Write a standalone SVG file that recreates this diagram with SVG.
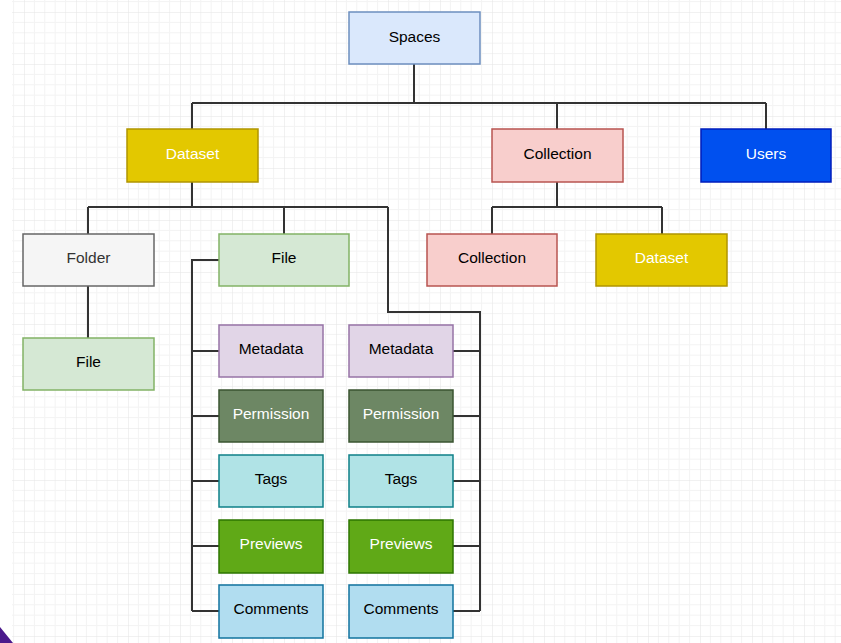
<svg xmlns="http://www.w3.org/2000/svg" width="841" height="643" viewBox="0 0 841 643">
<defs>
<pattern id="grid" patternUnits="userSpaceOnUse" x="24" y="12" width="52" height="52">
<path d="M10.4 0V52M20.8 0V52M31.2 0V52M41.6 0V52M0 10.4H52M0 20.8H52M0 31.2H52M0 41.6H52" stroke="#f3f3f3" stroke-width="1" fill="none"/>
<path d="M0 0V52M0 0H52" stroke="#e4e4e4" stroke-width="1" fill="none"/>
</pattern>
<style>
.n rect{stroke-width:1.5}
.n text{font-family:"Liberation Sans",Arial,sans-serif;font-size:15.5px;text-anchor:middle}
.c path{fill:none;stroke:#333333;stroke-width:2}
.blue rect{fill:#dae8fc;stroke:#6c8ebf}
.yellow rect{fill:#e3c800;stroke:#b09500}
.yellow text{fill:#ffffff}
.red rect{fill:#f8cecc;stroke:#b85450}
.dblue rect{fill:#0050ef;stroke:#001dbc}
.dblue text{fill:#ffffff}
.gray rect{fill:#f5f5f5;stroke:#666666}
.gray text{fill:#333333}
.green rect{fill:#d5e8d4;stroke:#82b366}
.purple rect{fill:#e1d5e7;stroke:#9673a6}
.olive rect{fill:#6d8764;stroke:#3a5431}
.olive text{fill:#ffffff}
.teal rect{fill:#b0e3e6;stroke:#0e8088}
.lime rect{fill:#60a917;stroke:#2d7600}
.lime text{fill:#ffffff}
.sky rect{fill:#b1ddf0;stroke:#10739e}
</style>
</defs>
<rect width="841" height="643" fill="#ffffff"/>
<rect x="12" y="0" width="829" height="643" fill="url(#grid)"/>
<path d="M0 627 L13 643 L0 643 Z" fill="#4b1a8c"/>

<g id="connectors" class="c">
<path d="M414 64V103M192 103H766M192 103V129M557 103V129M766 103V129"/>
<path d="M192 182V207M88 207H388M88 207V234M284 207V234"/>
<path d="M88 286V338"/>
<path d="M557 182V207M492 207H662M492 207V234M662 207V234"/>
<path d="M219 260H192V611M192 351H219M192 416H219M192 481H219M192 546H219M192 611H219"/>
<path d="M388 207V312H480V611M453 351H480M453 416H480M453 481H480M453 546H480M453 611H480"/>
</g>

<g id="spaces" class="n blue"><rect x="349" y="12" width="131" height="52"/><text x="414.5" y="42">Spaces</text></g>
<g id="dataset" class="n yellow"><rect x="127" y="129" width="131" height="53"/><text x="192.5" y="159">Dataset</text></g>
<g id="collection" class="n red"><rect x="492" y="129" width="131" height="53"/><text x="557.5" y="159">Collection</text></g>
<g id="users" class="n dblue"><rect x="701" y="129" width="130" height="53"/><text x="766" y="159">Users</text></g>
<g id="folder" class="n gray"><rect x="23" y="234" width="131" height="52"/><text x="88.5" y="263">Folder</text></g>
<g id="file" class="n green"><rect x="219" y="234" width="130" height="52"/><text x="284" y="263">File</text></g>
<g id="collection2" class="n red"><rect x="427" y="234" width="130" height="52"/><text x="492" y="263">Collection</text></g>
<g id="dataset2" class="n yellow"><rect x="596" y="234" width="131" height="52"/><text x="661.5" y="263">Dataset</text></g>
<g id="folder-file" class="n green"><rect x="23" y="338" width="131" height="52"/><text x="88.5" y="367">File</text></g>

<g id="metadata1" class="n purple"><rect x="219" y="325" width="104" height="52"/><text x="271" y="354">Metadata</text></g>
<g id="permission1" class="n olive"><rect x="219" y="390" width="104" height="52"/><text x="271" y="419">Permission</text></g>
<g id="tags1" class="n teal"><rect x="219" y="455" width="104" height="52"/><text x="271" y="484">Tags</text></g>
<g id="previews1" class="n lime"><rect x="219" y="520" width="104" height="53"/><text x="271" y="549">Previews</text></g>
<g id="comments1" class="n sky"><rect x="219" y="585" width="104" height="53"/><text x="271" y="614">Comments</text></g>

<g id="metadata2" class="n purple"><rect x="349" y="325" width="104" height="52"/><text x="401" y="354">Metadata</text></g>
<g id="permission2" class="n olive"><rect x="349" y="390" width="104" height="52"/><text x="401" y="419">Permission</text></g>
<g id="tags2" class="n teal"><rect x="349" y="455" width="104" height="52"/><text x="401" y="484">Tags</text></g>
<g id="previews2" class="n lime"><rect x="349" y="520" width="104" height="53"/><text x="401" y="549">Previews</text></g>
<g id="comments2" class="n sky"><rect x="349" y="585" width="104" height="53"/><text x="401" y="614">Comments</text></g>
</svg>
